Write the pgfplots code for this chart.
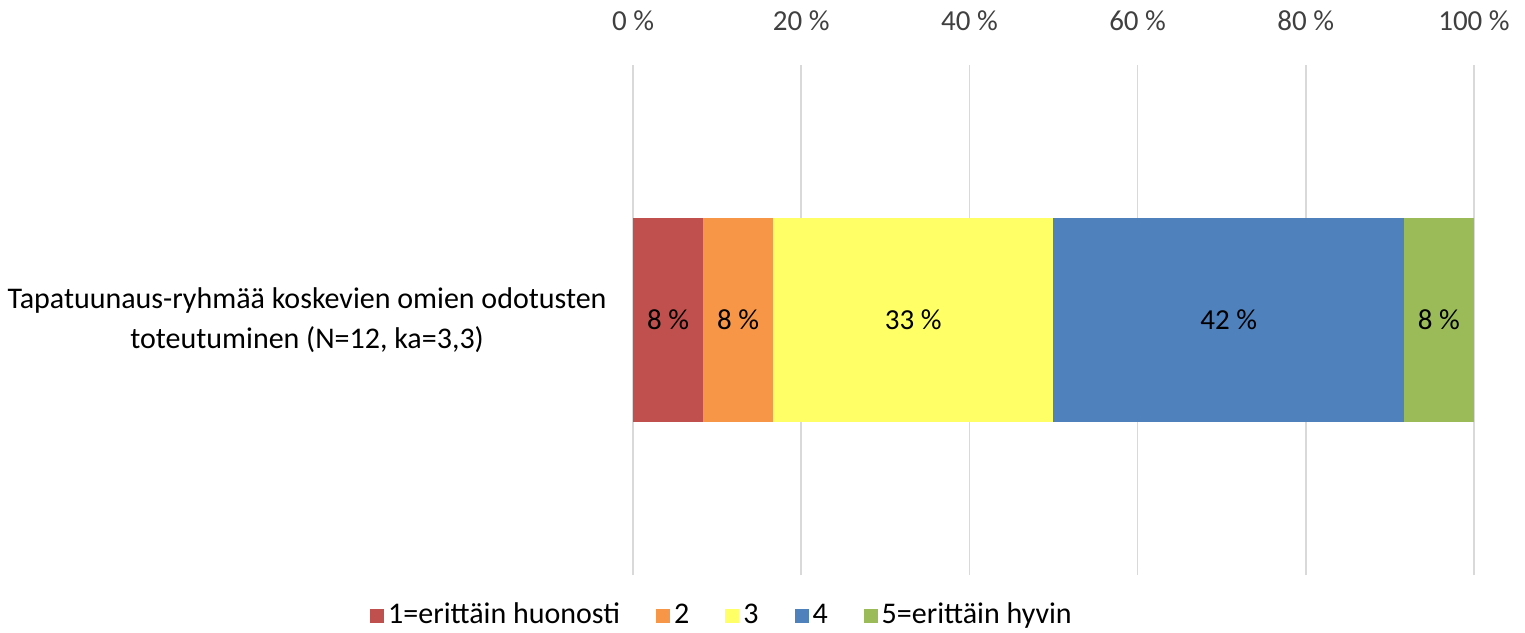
\documentclass[border=0pt]{standalone}
\usepackage{pgfplots}
\pgfplotsset{compat=1.18}
\usepackage{fontspec}
\setmainfont{Carlito}
\definecolor{c1}{HTML}{C0504D}
\definecolor{c2}{HTML}{F79646}
\definecolor{c3}{HTML}{FFFF66}
\definecolor{c4}{HTML}{4F81BD}
\definecolor{c5}{HTML}{9BBB59}
\definecolor{gridc}{HTML}{D9D9D9}
\definecolor{tickc}{HTML}{404040}
\newcommand\ylab{Tapatuunaus-ryhmää koskevien omien odotusten\\toteutuminen (N=12, ka=3,3)}
\begin{document}
\begin{tikzpicture}
\fontsize{15}{20}\selectfont
\begin{axis}[
  at={(316.5pt,28.5pt)}, anchor=south west,
  scale only axis, width=420.5pt, height=255pt,
  xbar stacked, bar width=102pt,
  xmin=0, xmax=100, ymin=-1, ymax=1,
  axis line style={draw=none},
  /pgf/number format/assume math mode=true,
  xmajorgrids, grid style={gridc, line width=0.8pt},
  xtick={0,20,40,60,80,100},
  xticklabels={0 \%,20 \%,40 \%,60 \%,80 \%,100 \%},
  xticklabel pos=upper,
  ytick={0},
  yticklabels={\ylab},
  yticklabel style={align=center, font=\fontsize{15}{20}\selectfont, text=black},
  xticklabel style={font=\fontsize{14.5}{17}\selectfont, text=tickc},
  major tick length=0pt,
  x tick label style={yshift=12pt},
  y tick label style={xshift=-8pt},
  point meta=explicit,
  nodes near coords={\pgfmathprintnumber[fixed,precision=0]{\pgfplotspointmeta}~\%},
  nodes near coords align={center},
  every node near coord/.append style={font=\fontsize{14.5}{17}\selectfont, text=black},
  legend columns=-1,
  legend style={at={(0.107,-0.08)}, anchor=center, draw=none, fill=none,
    font=\fontsize{15}{17}\selectfont, inner sep=0pt,
    /tikz/every even column/.append style={column sep=16pt}},
  legend image code/.code={\fill[#1] (0pt,-3.5pt) rectangle (7pt,3.5pt);},
]
\addplot[fill=c1, draw=none] coordinates {(8.333,0) [8.333]};
\addplot[fill=c2, draw=none] coordinates {(8.333,0) [8.333]};
\addplot[fill=c3, draw=none] coordinates {(33.333,0) [33.333]};
\addplot[fill=c4, draw=none] coordinates {(41.667,0) [41.667]};
\addplot[fill=c5, draw=none] coordinates {(8.333,0) [8.333]};
\legend{1=erittäin huonosti,2,3,4,5=erittäin hyvin}
\end{axis}
\pgfresetboundingbox
\path[use as bounding box] (0,0) rectangle (762.5pt,316pt);
\end{tikzpicture}
\end{document}
